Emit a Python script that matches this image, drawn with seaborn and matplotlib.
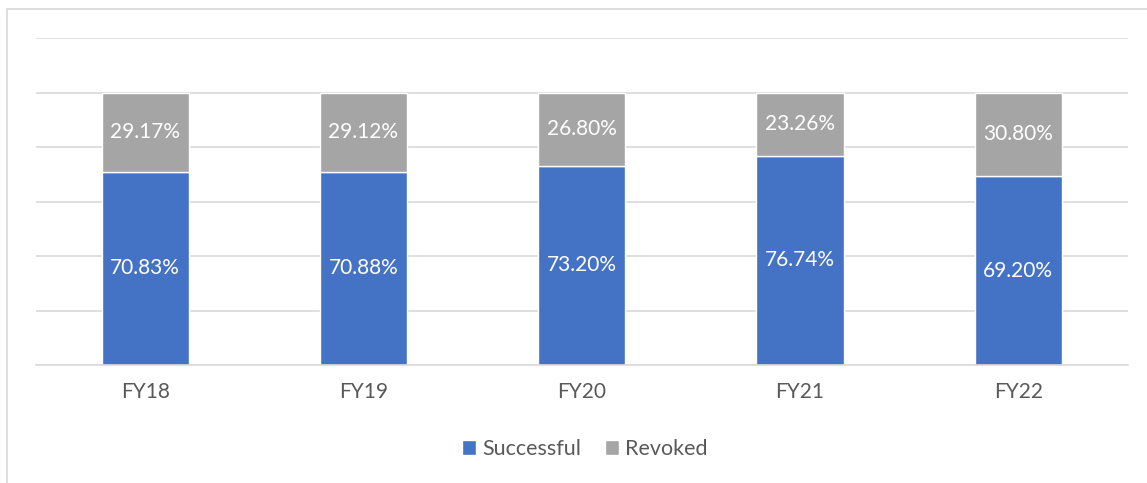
import matplotlib
matplotlib.use("Agg")
import matplotlib.pyplot as plt
from matplotlib.lines import Line2D
import seaborn as sns
import pandas as pd

# data
years = ["FY18", "FY19", "FY20", "FY21", "FY22"]
successful = [70.83, 70.88, 73.20, 76.74, 69.20]
revoked = [29.17, 29.12, 26.80, 23.26, 30.80]

df = pd.DataFrame({"Year": years, "Successful": successful, "Revoked": revoked})

sns.set_theme(style="white")
plt.rcParams["font.family"] = ["Lato", "DejaVu Sans"]

blue = "#4472C4"
grey = "#A5A5A5"
text_grey = "#595959"

fig = plt.figure(figsize=(11.47, 4.83), dpi=100)
ax = fig.add_axes([0.0314, 0.2443, 0.9516, 0.677])

sns.barplot(data=df, x="Year", y="Successful", color=blue, width=0.4,
            saturation=1, ax=ax, label="Successful")
sns.barplot(data=df, x="Year", y="Revoked", color=grey, width=0.4,
            saturation=1, ax=ax, bottom=df["Successful"], label="Revoked")

# value labels
for i, (s, r) in enumerate(zip(successful, revoked)):
    ax.text(i, s / 2, f"{s:.2f}%", ha="center", va="center", color="white", fontsize=15)
    ax.text(i, s + r / 2, f"{r:.2f}%", ha="center", va="center", color="white", fontsize=15)

ax.set_ylim(0, 120)
ax.set_xlim(-0.5, 4.5)
ax.set_yticks(range(0, 121, 20))
ax.yaxis.grid(True, color="#D9D9D9", linewidth=1.2)
ax.set_axisbelow(True)
ax.set_yticklabels([])
ax.tick_params(axis="y", length=0)
ax.tick_params(axis="x", length=0, pad=12, labelsize=15, labelcolor=text_grey)
ax.set_xlabel("")
ax.set_ylabel("")
for side in ["top", "right", "left"]:
    ax.spines[side].set_visible(False)
ax.spines["bottom"].set_color("#D9D9D9")
ax.spines["bottom"].set_linewidth(1.2)

if ax.legend_:
    ax.legend_.remove()
handles, labels = ax.get_legend_handles_labels()
fig.legend(handles, labels, loc="center", bbox_to_anchor=(0.51, 0.07), ncol=2,
           frameon=False, fontsize=15.5, handlelength=0.65, handleheight=0.65,
           handletextpad=0.3, columnspacing=1.1, labelcolor=text_grey)

# chart border (top and left visible)
fig.add_artist(Line2D([0.006, 1.0], [0.982, 0.982], color="#D9D9D9", linewidth=1.2))
fig.add_artist(Line2D([0.006, 0.006], [0.0, 0.982], color="#D9D9D9", linewidth=1.2))

fig.savefig("out.png", dpi=100)
